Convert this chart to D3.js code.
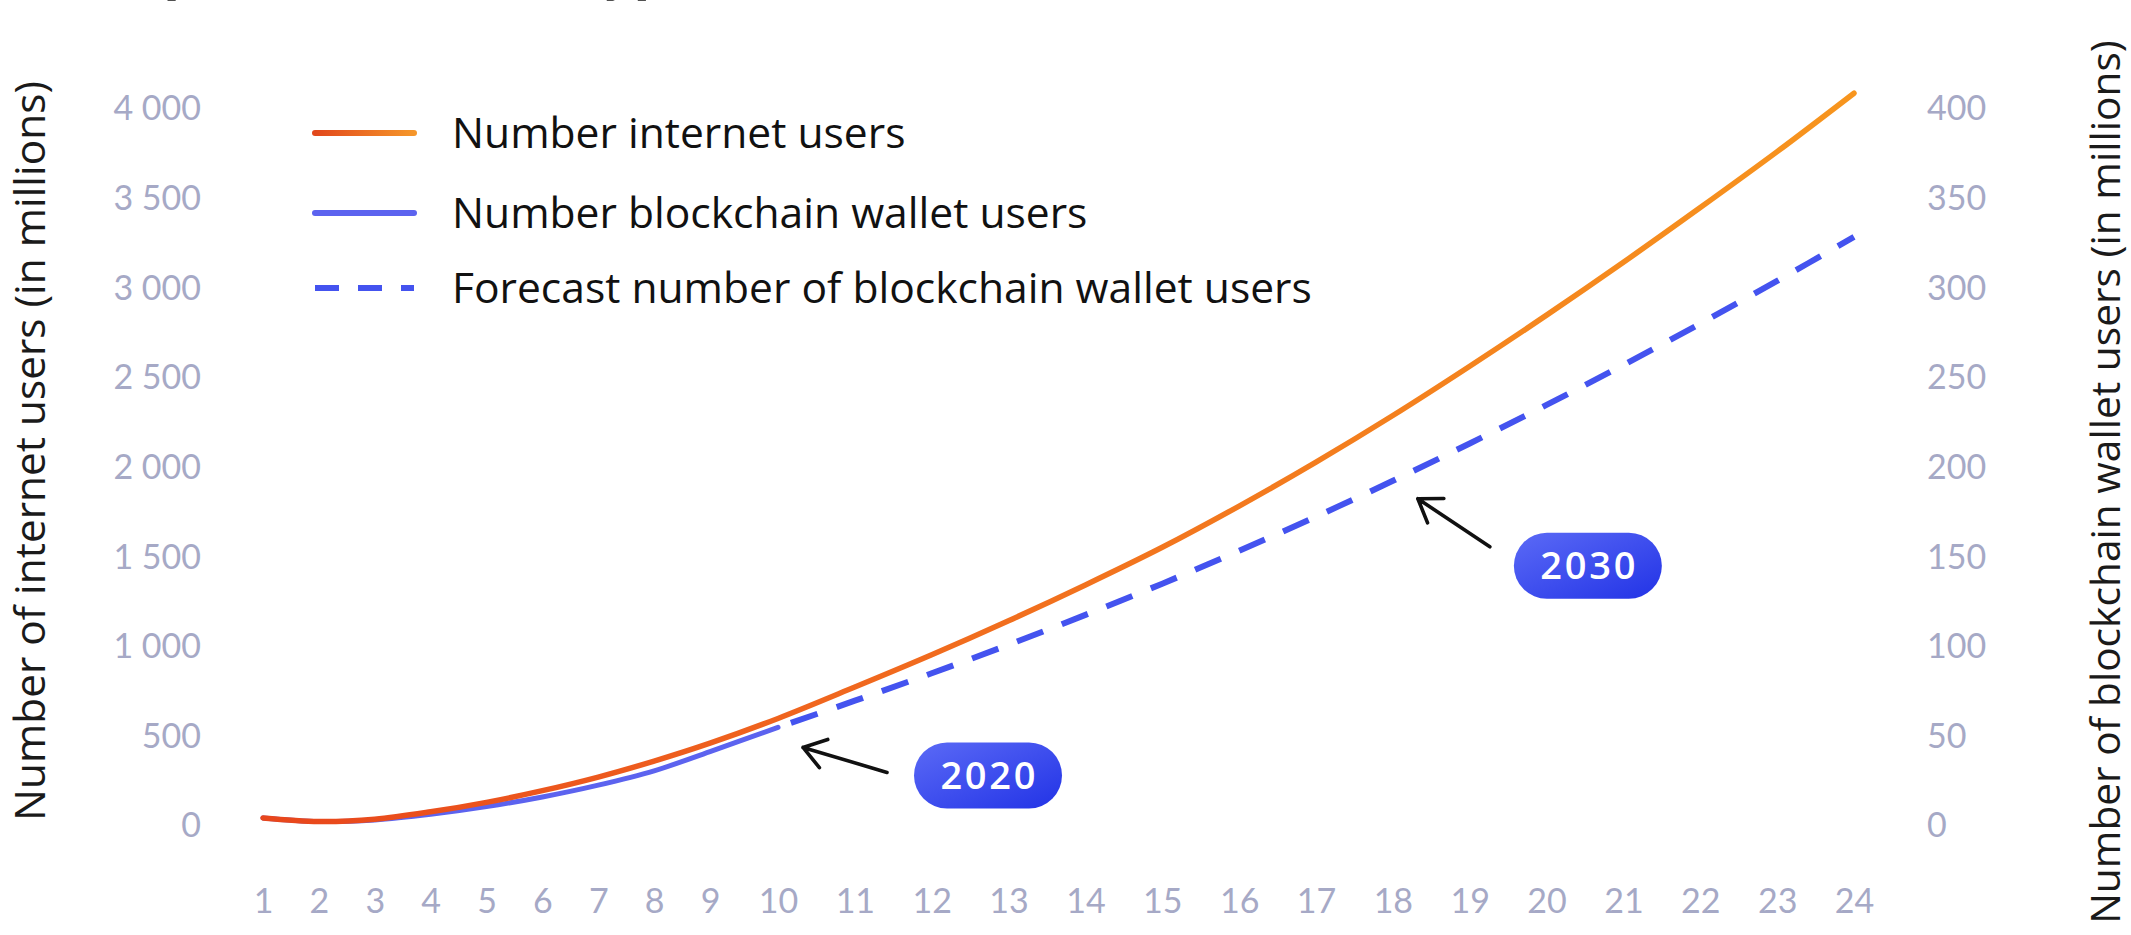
<!DOCTYPE html>
<html>
<head>
<meta charset="utf-8">
<script src="https://cdn.jsdelivr.net/npm/d3@7"></script>
<style>
  html, body { margin: 0; padding: 0; background: #ffffff; overflow: hidden; }
  svg { display: block; }
</style>
</head>
<body>
<svg id="chart" width="2131" height="935"></svg>
<script>
// ---------- data ----------
const periods = [1,2,3,4,5,6,7,8,9,10,11,12,13,14,15,16,17,18,19,20,21,22,23,24];
const internetUsers = [45,25,38,79,132,197,273,362,462,600,775,955,1145,1345,1555,1785,2030,2290,2565,2850,3145,3450,3762,4088];
const walletPeriods = [1,2,3,4,5,6,7,8,9,10];
const walletUsers = [4.5,2.5,3.4,6.5,10.8,16.2,22.8,30.8,41.5,55];
const forecastPeriods = [10,11,12,13,14,15,16,17,18,19,20,21,22,23,24];
const walletForecast = [55,69.9,85.2,101.1,117.8,135.2,153.5,172.6,192.6,213.4,234.9,257.2,280.3,304.1,328.7];
const leftTicks = [0,500,1000,1500,2000,2500,3000,3500,4000];
const rightTicks = [0,50,100,150,200,250,300,350,400];
const legendLabels = ["Number internet users","Number blockchain wallet users","Forecast number of blockchain wallet users"];
const leftTitle = "Number of internet users (in millions)";
const rightTitle = "Number of blockchain wallet users (in millions)";
const chartTitle = "Adoption rate of crypto wallets";
const annotations = [
  {label:"2020", period:10, value:55},
  {label:"2030", period:18, value:192.6}
];

// ---------- setup ----------
const svg = d3.select("#chart");
const defs = svg.append("defs");

const x = d3.scaleLinear().domain([1,9,10,24]).range([263,710,778,1854]);
const yL = d3.scaleLinear().domain([0,4000]).range([826,109]);
const yR = d3.scaleLinear().domain([0,400]).range([826,109]);

const tickColor = "#a6a9c6";
const spaceFmt = v => d3.format(",")(v).replace(/,/g, " ");

// gradients
const og = defs.append("linearGradient").attr("id","orangeGrad")
  .attr("gradientUnits","userSpaceOnUse")
  .attr("x1", x(1)).attr("x2", x(24)).attr("y1",0).attr("y2",0);
og.append("stop").attr("offset","0%").attr("stop-color","#e8461c");
og.append("stop").attr("offset","35%").attr("stop-color","#f0661e");
og.append("stop").attr("offset","100%").attr("stop-color","#f7951e");

const lg = defs.append("linearGradient").attr("id","legendOrange")
  .attr("gradientUnits","userSpaceOnUse")
  .attr("x1", 315).attr("x2", 414).attr("y1",0).attr("y2",0);
lg.append("stop").attr("offset","0%").attr("stop-color","#e2481c");
lg.append("stop").attr("offset","100%").attr("stop-color","#f5962a");

const bg = defs.append("linearGradient").attr("id","badgeGrad")
  .attr("x1","0%").attr("y1","0%").attr("x2","100%").attr("y2","100%");
bg.append("stop").attr("offset","0%").attr("stop-color","#5b6af6");
bg.append("stop").attr("offset","100%").attr("stop-color","#2233e6");

// ---------- title (cut off at the top, as in the reference) ----------
svg.append("text")
  .attr("x", 43).attr("y", -11)
  .attr("font-family","Lato, sans-serif").attr("font-weight", 700)
  .attr("font-size", 66).attr("fill","#111")
  .text(chartTitle);

// ---------- axes ----------
const axL = svg.append("g").attr("transform","translate(201,0)")
  .call(d3.axisLeft(yL).tickValues(leftTicks).tickSize(0).tickPadding(0).tickFormat(spaceFmt));
const axR = svg.append("g").attr("transform","translate(1927,0)")
  .call(d3.axisRight(yR).tickValues(rightTicks).tickSize(0).tickPadding(0).tickFormat(d3.format("d")));
const axB = svg.append("g").attr("transform","translate(0,901)")
  .call(d3.axisBottom(x).tickValues(periods).tickSize(0).tickPadding(0).tickFormat(d3.format("d")));

[axL, axR, axB].forEach(g => {
  g.select(".domain").remove();
  g.selectAll("text")
    .attr("fill", tickColor)
    .attr("font-family","Lato, sans-serif")
    .attr("font-size", 34);
});
axB.selectAll("text").attr("y", 0).attr("dy","0.36em");

// axis titles
function fitText(sel, target) {
  const len = sel.node().getComputedTextLength();
  const fs = parseFloat(sel.attr("font-size"));
  const nfs = fs * target / len;
  sel.attr("font-size", nfs.toFixed(2));
  return nfs;
}
const lt = svg.append("text")
  .attr("transform","translate(30,451) rotate(-90)")
  .attr("text-anchor","middle").attr("dy","0.35em")
  .attr("font-family","'Open Sans', sans-serif").attr("font-size", 30)
  .attr("fill","#1a1a1a").text(leftTitle);
fitText(lt, 740);
const rt = svg.append("text")
  .attr("transform","translate(2106,482) rotate(-90)")
  .attr("text-anchor","middle").attr("dy","0.35em")
  .attr("font-family","'Open Sans', sans-serif").attr("font-size", 30)
  .attr("fill","#1a1a1a").text(rightTitle);
fitText(rt, 884);

// ---------- lines ----------
const curve = d3.curveCatmullRom.alpha(0.5);
const lineL = d3.line().x(d => x(d[0])).y(d => yL(d[1])).curve(curve);
const lineR = d3.line().x(d => x(d[0])).y(d => yR(d[1])).curve(curve);

svg.append("path")
  .datum(walletPeriods.map((p,i) => [p, walletUsers[i]]))
  .attr("d", lineR).attr("fill","none")
  .attr("stroke","#5c63ef").attr("stroke-width",5).attr("stroke-linecap","round");

svg.append("path")
  .datum(forecastPeriods.map((p,i) => [p, walletForecast[i]]))
  .attr("d", lineR).attr("fill","none")
  .attr("stroke","#4453ef").attr("stroke-width",6)
  .attr("stroke-dasharray","28 20").attr("stroke-dashoffset", -14);

svg.append("path")
  .datum(periods.map((p,i) => [p, internetUsers[i]]))
  .attr("d", lineL).attr("fill","none")
  .attr("stroke","url(#orangeGrad)").attr("stroke-width",5.5).attr("stroke-linecap","round");

// ---------- legend ----------
const legendY = [133, 213, 288];
const leg = svg.append("g");
const legTexts = [];
legendLabels.forEach((lab, i) => {
  const ln = leg.append("line")
    .attr("x1", 315).attr("x2", 414).attr("y1", legendY[i]).attr("y2", legendY[i])
    .attr("stroke-width", 6).attr("stroke-linecap","round");
  if (i === 0) ln.attr("stroke","url(#legendOrange)");
  if (i === 1) ln.attr("stroke","#5c63ef");
  if (i === 2) ln.attr("stroke","#4453ef").attr("stroke-dasharray","24 19").attr("stroke-linecap","butt");
  legTexts.push(leg.append("text")
    .attr("x", 452).attr("y", legendY[i]).attr("dy","0.35em")
    .attr("font-family","'Open Sans', sans-serif").attr("font-size", 34)
    .attr("fill","#111").text(lab));
});
const legFs = fitText(legTexts[2], 860);
legTexts.forEach(t => t.attr("font-size", legFs.toFixed(2)));

// ---------- annotations ----------
const annOffsets = [
  {tip:[25,20], tail:[109,45], badge:[210,48]},
  {tip:[25,18], tail:[97,66], badge:[195,85]}
];
annotations.forEach((a, i) => {
  const px = x(a.period), py = yR(a.value);
  const o = annOffsets[i];
  const tx = px + o.tip[0], ty = py + o.tip[1];
  const sx = px + o.tail[0], sy = py + o.tail[1];
  const ang = Math.atan2(sy - ty, sx - tx);
  const hl = 26, spread = 0.6;
  const h1 = [tx + hl*Math.cos(ang+spread), ty + hl*Math.sin(ang+spread)];
  const h2 = [tx + hl*Math.cos(ang-spread), ty + hl*Math.sin(ang-spread)];
  svg.append("path")
    .attr("d", `M${sx},${sy}L${tx},${ty}M${h1[0]},${h1[1]}L${tx},${ty}L${h2[0]},${h2[1]}`)
    .attr("fill","none").attr("stroke","#111").attr("stroke-width",3.6)
    .attr("stroke-linecap","round").attr("stroke-linejoin","round");
  const bx = px + o.badge[0], by = py + o.badge[1];
  const bw = 148, bh = 66;
  svg.append("rect")
    .attr("x", bx - bw/2).attr("y", by - bh/2).attr("width", bw).attr("height", bh)
    .attr("rx", bh/2).attr("fill","url(#badgeGrad)");
  const bt = svg.append("text")
    .attr("x", bx).attr("y", by).attr("dy","0.36em").attr("text-anchor","middle")
    .attr("font-family","'Open Sans', sans-serif").attr("font-weight",600).attr("font-size", 38)
    .attr("fill","#ffffff").text(a.label);
  const len = bt.node().getComputedTextLength();
  const ls = Math.max(0, Math.min(3, (98 - len) / 4));
  bt.attr("letter-spacing", ls.toFixed(2)).attr("x", bx + ls/2);
});
</script>
</body>
</html>
